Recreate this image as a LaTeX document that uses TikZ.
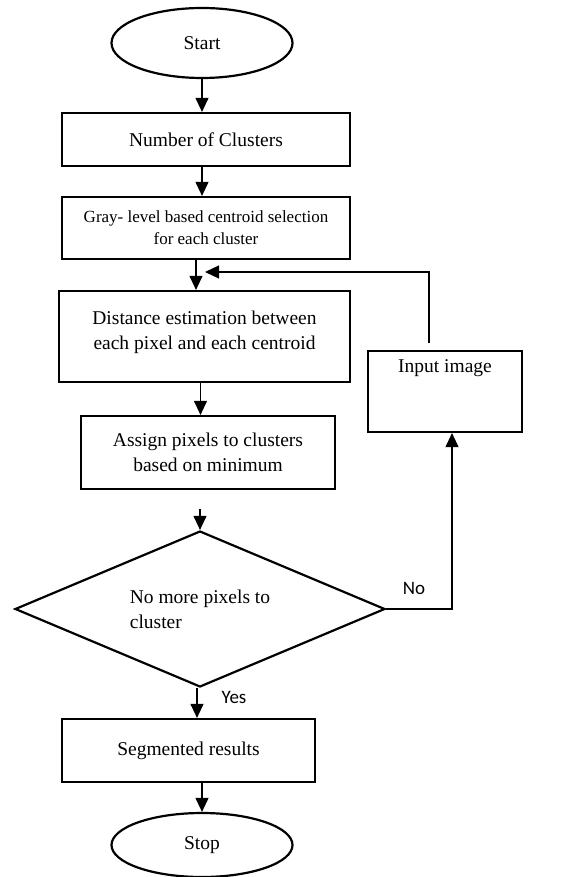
\documentclass[tikz,border=0pt]{standalone}
\usepackage{fontspec}
\setmainfont{Liberation Serif}
\newfontfamily\lblfont{Carlito}
\usetikzlibrary{positioning,shapes.geometric,arrows.meta}

\tikzset{
	term/.style={ellipse,draw,line width=2.2pt,minimum width=181pt,inner sep=0pt},
	proc/.style={rectangle,draw,line width=2.2pt,inner sep=0pt,align=center},
	cond/.style={diamond,draw,line width=2.2pt,aspect=2.37,minimum width=370pt,minimum height=156pt,inner sep=0pt,align=left},
	lbl/.style={font=\lblfont\fontsize{19}{22}\selectfont}
}

\begin{document}
\begin{tikzpicture}[x=1pt,y=-1pt,->,>={Triangle[length=14pt,width=13pt]},line width=1.1pt,font=\fontsize{19.5}{25}\selectfont]
	\useasboundingbox	(0,0)	rectangle	(569,877);

	\node[term,minimum height=70pt]		(start)		at	(202,43)		{Start};
	\node[proc,minimum width=288pt,minimum height=53pt]	(num)	at	(206,139.5)	{Number of Clusters};
	\node[proc,minimum width=288pt,minimum height=62pt,font=\fontsize{17}{22}\selectfont]	(gray)	at	(206,228)	{Gray- level based centroid selection\\for each cluster};
	\node[proc,minimum width=291pt,minimum height=91pt,text depth=12pt]	(dist)	at	(204.5,336.5)	{Distance estimation between\\each pixel and each centroid};
	\node[proc,minimum width=254pt,minimum height=73pt]	(assign)	at	(208,452.5)	{Assign pixels to clusters\\based on minimum};
	\node[cond]		(check)		at	(200,609)		{No more pixels to\\cluster};
	\node[proc,minimum width=154pt,minimum height=81pt,text depth=50pt]	(input)	at	(445,391.5)	{Input image};
	\node[proc,minimum width=253pt,minimum height=63pt]	(seg)	at	(188.5,750.5)	{Segmented results};
	\node[term,minimum height=64pt]		(stop)		at	(202,845)		{Stop};
	\coordinate	(back)	at	(205,272);

	\node[lbl]	(no)	at	(414,588)	{No};
	\node[lbl]	(yes)	at	(234,697)	{Yes};

	\draw	(start.south)	--	(start.south |- num.north);
	\draw	(start.south |- num.south)	--	(start.south |- gray.north);
	\draw	([xshift=-10pt]gray.south)	--	([xshift=-10pt]gray.south |- dist.north);
	\draw	([xshift=-4pt]dist.south)	--	([xshift=-4pt]dist.south |- assign.north);
	\draw[shorten <=19pt]	(check.north |- assign.south)	--	(check.north);
	\draw	([xshift=-3pt]check.south)	--	([xshift=-3pt]check.south |- seg.north);
	\draw	(stop.north |- seg.south)	--	(stop.north);
	\draw	(check.east)	-|	([xshift=7pt]input.south);
	\draw[shorten <=7pt]	([xshift=-16pt]input.north)	|-	(back);
\end{tikzpicture}
\end{document}
